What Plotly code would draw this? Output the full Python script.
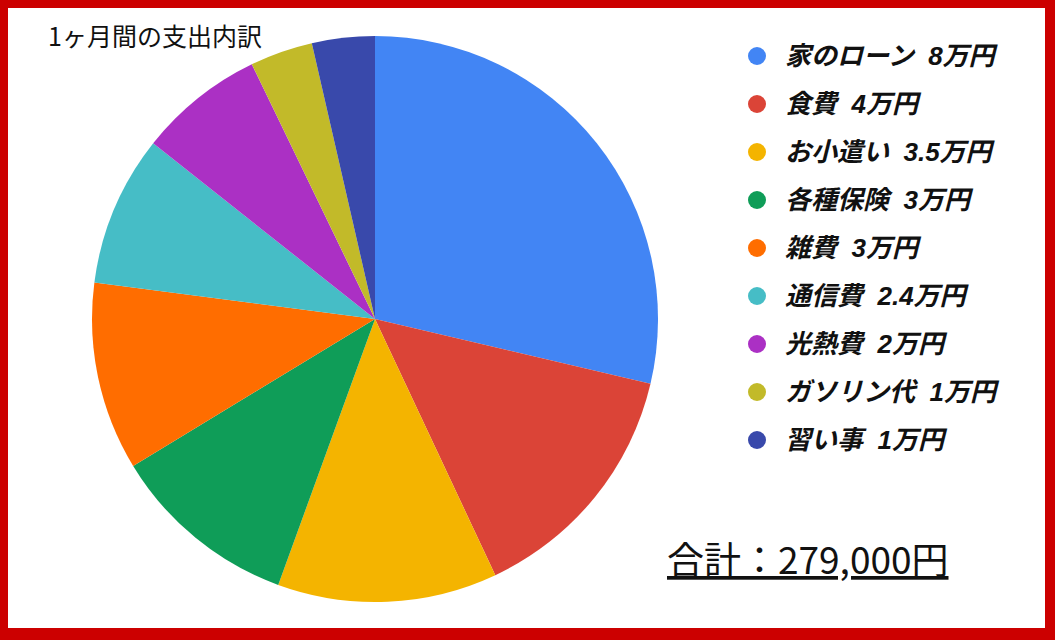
import plotly.graph_objects as go

labels = ["家のローン", "食費", "お小遣い", "各種保険", "雑費", "通信費", "光熱費", "ガソリン代", "習い事"]
values = [8, 4, 3.5, 3, 3, 2.4, 2, 1, 1]  # 万円
value_text = ["8", "4", "3.5", "3", "3", "2.4", "2", "1", "1"]
colors = ["#4285F4", "#DB4437", "#F4B400", "#0F9D58", "#FF6D00",
          "#46BDC6", "#AB30C4", "#C2BA29", "#3949AB"]
title_text = "1ヶ月間の支出内訳"
total_text = "合計：279,000円"

W, H = 1055, 640
cx, cy, r = 375, 319, 283

fig = go.Figure(go.Pie(
    labels=labels, values=values, sort=False, direction="clockwise", rotation=0,
    marker=dict(colors=colors, line=dict(width=0)),
    textinfo="none", hoverinfo="label+value", showlegend=False,
    domain=dict(x=[(cx - r) / W, (cx + r) / W], y=[1 - (cy + r) / H, 1 - (cy - r) / H]),
))

shapes = [dict(type="rect", xref="paper", yref="paper", x0=8 / W, x1=1045 / W,
               y0=1 - 628 / H, y1=1 - 8 / H, fillcolor="white", line=dict(width=0), layer="below")]
annotations = []
lx, ly0, dy, mr = 757, 56, 48, 9
NB = "\u00a0"
for i, (lab, vt, col) in enumerate(zip(labels, value_text, colors)):
    y = ly0 + i * dy
    shapes.append(dict(type="circle", xref="paper", yref="paper",
                       x0=(lx - mr) / W, x1=(lx + mr) / W,
                       y0=1 - (y + mr) / H, y1=1 - (y - mr) / H,
                       fillcolor=col, line=dict(width=0)))
    annotations.append(dict(xref="paper", yref="paper", x=783 / W, y=1 - y / H,
                            xanchor="left", yanchor="middle", showarrow=False,
                            text=f"<b><i>{lab}{NB}{NB}{vt}万円</i></b>",
                            font=dict(family="Liberation Sans, Noto Sans CJK JP", size=26, color="#111")))

annotations.append(dict(xref="paper", yref="paper", x=46 / W, y=1 - 35 / H,
                        xanchor="left", yanchor="middle", showarrow=False,
                        text=title_text,
                        font=dict(family="Noto Sans CJK JP", size=25, color="#111")))
annotations.append(dict(xref="paper", yref="paper", x=665 / W, y=1 - 558 / H,
                        xanchor="left", yanchor="middle", showarrow=False,
                        text=f"<u>{total_text}</u>",
                        font=dict(family="Noto Sans CJK JP", size=37, color="#111")))

fig.update_layout(width=W, height=H, margin=dict(l=0, r=0, t=0, b=0),
                  paper_bgcolor="#CC0000", plot_bgcolor="white",
                  shapes=shapes, annotations=annotations)
fig.write_html("out.html", config={"displayModeBar": False},
               post_script="document.body.style.margin='0';document.body.style.overflow='hidden';")
